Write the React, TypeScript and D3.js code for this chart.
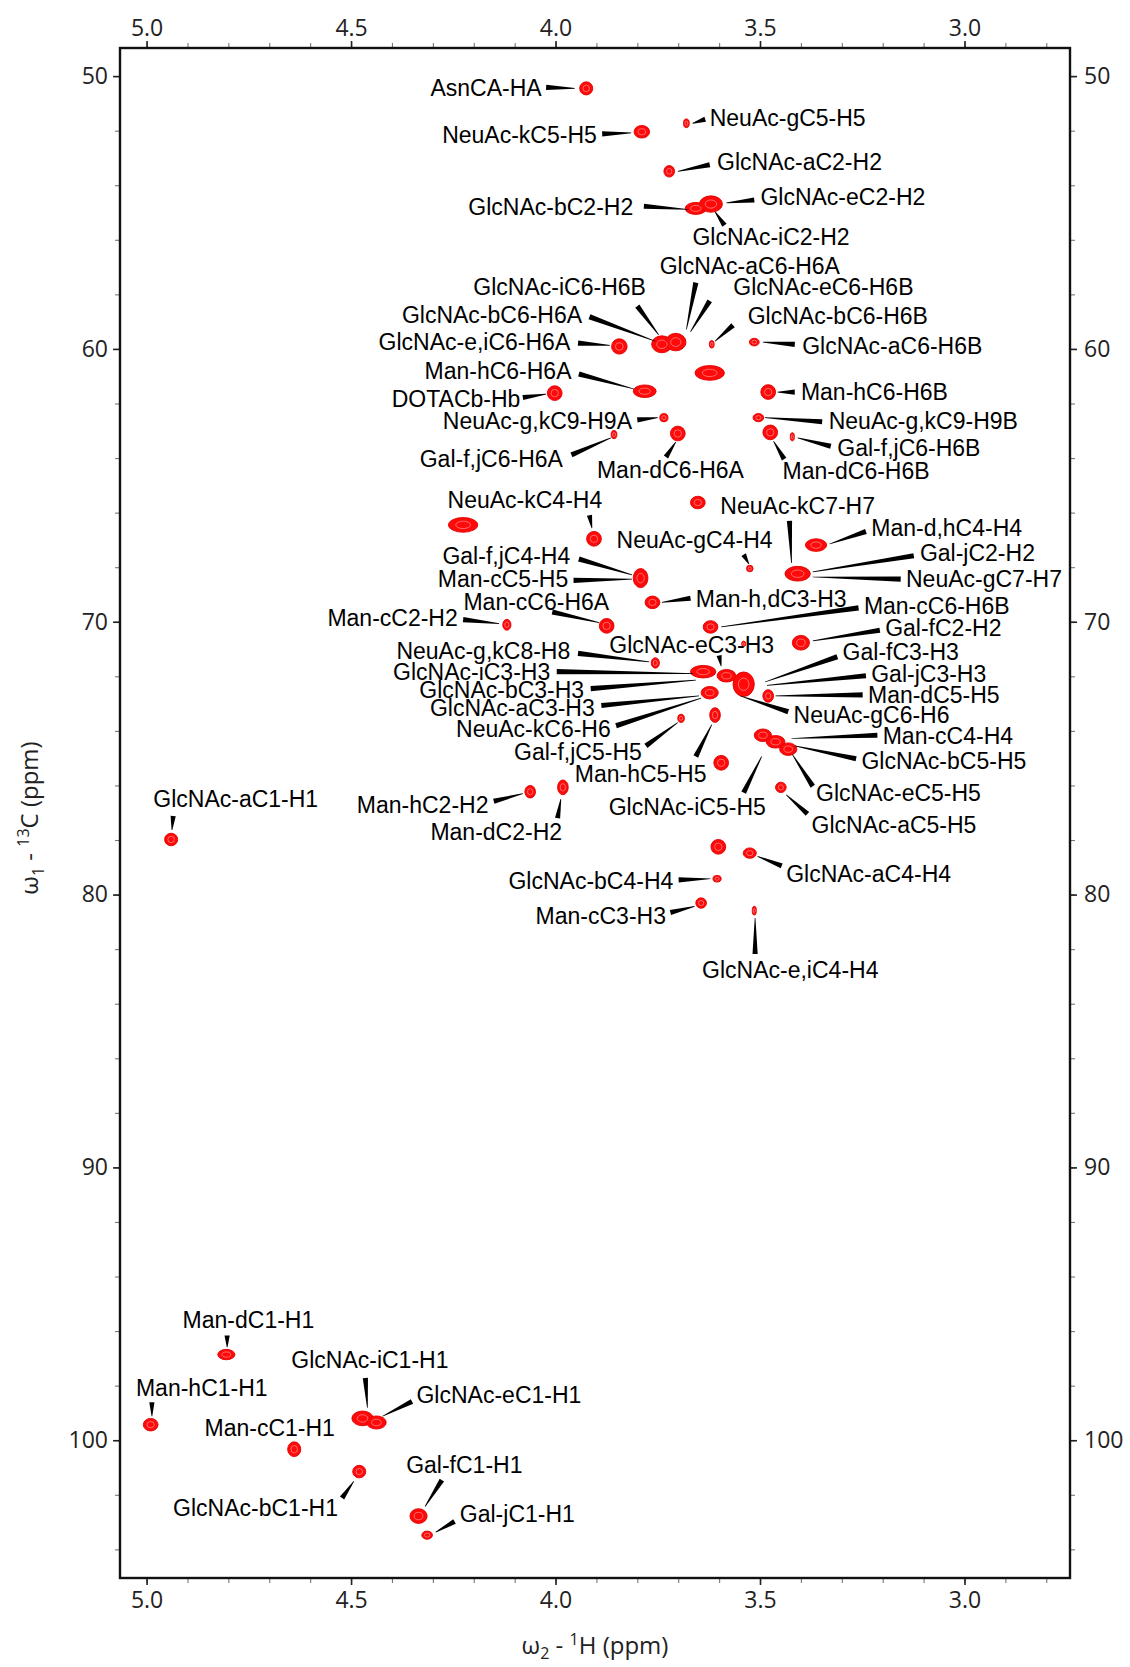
import React, { useEffect, useRef } from 'react';
import * as d3 from 'd3';

// spectral window (ppm)
const hDomain = [5.065, 2.742];
const cDomain = [48.97, 105.05];

const hTicks = [5.0, 4.5, 4.0, 3.5, 3.0];
const cTicks = [50, 60, 70, 80, 90, 100];

// cross peaks: [1H ppm, 13C ppm, 1H half width, 13C half width]
const peaks: number[][] = [
  [3.925, 50.45, 0.016, 0.24],
  [3.680, 51.73, 0.007, 0.16],
  [3.789, 52.04, 0.019, 0.23],
  [3.722, 53.49, 0.013, 0.21],
  [3.657, 54.85, 0.026, 0.22],
  [3.620, 54.69, 0.028, 0.30],
  [3.844, 59.91, 0.019, 0.28],
  [3.740, 59.83, 0.025, 0.31],
  [3.706, 59.75, 0.025, 0.32],
  [3.618, 59.83, 0.006, 0.14],
  [3.514, 59.75, 0.012, 0.14],
  [3.623, 60.88, 0.036, 0.27],
  [3.782, 61.55, 0.028, 0.23],
  [4.002, 61.62, 0.018, 0.27],
  [3.480, 61.58, 0.018, 0.27],
  [3.735, 62.52, 0.010, 0.15],
  [3.504, 62.52, 0.013, 0.15],
  [3.857, 63.14, 0.007, 0.15],
  [3.701, 63.10, 0.018, 0.27],
  [3.475, 63.06, 0.018, 0.27],
  [3.421, 63.22, 0.005, 0.15],
  [4.226, 66.45, 0.036, 0.27],
  [3.906, 66.96, 0.018, 0.27],
  [3.652, 65.63, 0.018, 0.23],
  [3.525, 68.05, 0.008, 0.12],
  [3.363, 67.19, 0.026, 0.23],
  [3.408, 68.24, 0.031, 0.27],
  [3.792, 68.40, 0.018, 0.35],
  [3.763, 69.29, 0.018, 0.23],
  [3.875, 70.15, 0.018, 0.27],
  [4.119, 70.11, 0.010, 0.20],
  [3.621, 70.19, 0.018, 0.23],
  [3.400, 70.77, 0.021, 0.27],
  [3.540, 70.81, 0.005, 0.10],
  [3.756, 71.51, 0.010, 0.19],
  [3.639, 71.83, 0.031, 0.23],
  [3.582, 71.98, 0.023, 0.23],
  [3.540, 72.29, 0.026, 0.45],
  [3.623, 72.60, 0.021, 0.23],
  [3.480, 72.72, 0.013, 0.23],
  [3.693, 73.54, 0.008, 0.15],
  [3.610, 73.42, 0.013, 0.27],
  [3.493, 74.16, 0.021, 0.23],
  [3.462, 74.40, 0.023, 0.23],
  [3.431, 74.67, 0.021, 0.23],
  [3.595, 75.17, 0.018, 0.27],
  [3.449, 76.07, 0.013, 0.19],
  [4.062, 76.23, 0.013, 0.23],
  [3.982, 76.07, 0.013, 0.27],
  [4.940, 77.98, 0.016, 0.23],
  [3.602, 78.25, 0.018, 0.27],
  [3.525, 78.48, 0.016, 0.19],
  [3.605, 79.42, 0.010, 0.12],
  [3.644, 80.31, 0.013, 0.19],
  [3.514, 80.59, 0.005, 0.16],
  [4.805, 96.86, 0.021, 0.19],
  [4.990, 99.43, 0.018, 0.23],
  [4.472, 99.20, 0.026, 0.27],
  [4.438, 99.35, 0.024, 0.24],
  [4.639, 100.33, 0.016, 0.27],
  [4.480, 101.15, 0.016, 0.23],
  [4.335, 102.78, 0.021, 0.27],
  [4.314, 103.48, 0.013, 0.15],
];

// assignments: [text, label 1H, label 13C, anchor, leader from 1H, 13C, leader to 1H, 13C]
const labels: [string, number, number, string, ...number[]][] = [
  ['AsnCA-HA', 4.034, 50.41, 'end', 4.023, 50.41, 3.953, 50.45],
  ['NeuAc-gC5-H5', 3.623, 51.54, 'start', 3.634, 51.58, 3.665, 51.73],
  ['NeuAc-kC5-H5', 3.899, 52.16, 'end', 3.886, 52.12, 3.815, 52.08],
  ['GlcNAc-aC2-H2', 3.605, 53.13, 'start', 3.623, 53.25, 3.701, 53.49],
  ['GlcNAc-bC2-H2', 3.810, 54.77, 'end', 3.784, 54.77, 3.675, 54.89],
  ['GlcNAc-eC2-H2', 3.499, 54.42, 'start', 3.514, 54.54, 3.582, 54.65],
  ['GlcNAc-iC2-H2', 3.473, 55.90, 'middle', 3.587, 55.47, 3.610, 54.97],
  ['GlcNAc-aC6-H6A', 3.525, 56.95, 'middle', 3.657, 57.57, 3.680, 59.29],
  ['GlcNAc-iC6-H6B', 3.990, 57.73, 'middle', 3.800, 58.43, 3.748, 59.48],
  ['GlcNAc-eC6-H6B', 3.345, 57.73, 'middle', 3.623, 58.24, 3.670, 59.37],
  ['GlcNAc-bC6-H6A', 3.935, 58.74, 'end', 3.917, 58.82, 3.756, 59.72],
  ['GlcNAc-bC6-H6B', 3.530, 58.78, 'start', 3.566, 59.13, 3.610, 59.72],
  ['GlcNAc-e,iC6-H6A', 3.964, 59.75, 'end', 3.945, 59.79, 3.867, 59.87],
  ['GlcNAc-aC6-H6B', 3.397, 59.87, 'start', 3.415, 59.83, 3.493, 59.75],
  ['Man-hC6-H6A', 3.961, 60.81, 'end', 3.943, 60.92, 3.808, 61.47],
  ['DOTACb-Hb', 4.086, 61.82, 'end', 4.080, 61.78, 4.023, 61.66],
  ['Man-hC6-H6B', 3.400, 61.58, 'start', 3.415, 61.58, 3.457, 61.58],
  ['NeuAc-g,kC9-H9A', 3.813, 62.64, 'end', 3.800, 62.60, 3.750, 62.52],
  ['NeuAc-g,kC9-H9B', 3.332, 62.64, 'start', 3.348, 62.67, 3.488, 62.52],
  ['Gal-f,jC6-H6A', 3.982, 64.04, 'end', 3.961, 63.88, 3.865, 63.26],
  ['Man-dC6-H6A', 3.719, 64.43, 'middle', 3.730, 63.96, 3.706, 63.41],
  ['Man-dC6-H6B', 3.265, 64.47, 'middle', 3.441, 64.04, 3.467, 63.38],
  ['Gal-f,jC6-H6B', 3.311, 63.61, 'start', 3.327, 63.57, 3.408, 63.26],
  ['NeuAc-kC4-H4', 4.075, 65.52, 'middle', 3.917, 66.10, 3.911, 66.57],
  ['NeuAc-kC7-H7', 3.597, 65.75, 'start', 3.428, 66.30, 3.423, 67.85],
  ['NeuAc-gC4-H4', 3.660, 67.00, 'middle', 3.540, 67.54, 3.527, 67.89],
  ['Man-d,hC4-H4', 3.228, 66.57, 'start', 3.241, 66.69, 3.330, 67.15],
  ['Gal-jC2-H2', 3.109, 67.46, 'start', 3.124, 67.58, 3.371, 68.17],
  ['NeuAc-gC7-H7', 3.143, 68.44, 'start', 3.156, 68.44, 3.371, 68.36],
  ['Gal-f,jC4-H4', 3.964, 67.58, 'end', 3.943, 67.70, 3.813, 68.28],
  ['Man-cC5-H5', 3.969, 68.44, 'end', 3.956, 68.48, 3.813, 68.44],
  ['Man-cC6-H6A', 4.047, 69.25, 'middle', 4.008, 69.64, 3.893, 70.03],
  ['Man-h,dC3-H3', 3.657, 69.14, 'start', 3.670, 69.14, 3.740, 69.29],
  ['Man-cC2-H2', 4.239, 69.84, 'end', 4.226, 69.92, 4.138, 70.07],
  ['Man-cC6-H6B', 3.246, 69.41, 'start', 3.259, 69.49, 3.595, 70.19],
  ['Gal-fC2-H2', 3.194, 70.23, 'start', 3.207, 70.31, 3.371, 70.70],
  ['GlcNAc-eC3-H3', 3.667, 70.85, 'middle', 3.600, 71.24, 3.595, 71.63],
  ['NeuAc-g,kC8-H8', 3.964, 71.05, 'end', 3.945, 71.16, 3.771, 71.47],
  ['GlcNAc-iC3-H3', 4.013, 71.83, 'end', 3.997, 71.83, 3.665, 71.90],
  ['GlcNAc-bC3-H3', 3.930, 72.49, 'end', 3.914, 72.45, 3.657, 72.14],
  ['GlcNAc-aC3-H3', 3.904, 73.15, 'end', 3.888, 73.07, 3.649, 72.72],
  ['NeuAc-kC6-H6', 3.865, 73.93, 'end', 3.852, 73.81, 3.644, 72.80],
  ['Gal-f,jC5-H5', 3.789, 74.75, 'end', 3.779, 74.55, 3.701, 73.69],
  ['Man-hC5-H5', 3.792, 75.56, 'middle', 3.657, 74.94, 3.618, 73.77],
  ['Gal-fC3-H3', 3.298, 71.09, 'start', 3.311, 71.28, 3.488, 72.21],
  ['Gal-jC3-H3', 3.228, 71.90, 'start', 3.241, 71.98, 3.483, 72.33],
  ['Man-dC5-H5', 3.236, 72.68, 'start', 3.249, 72.68, 3.462, 72.72],
  ['NeuAc-gC6-H6', 3.418, 73.42, 'start', 3.431, 73.30, 3.548, 72.72],
  ['Man-cC4-H4', 3.200, 74.16, 'start', 3.213, 74.16, 3.423, 74.28],
  ['GlcNAc-bC5-H5', 3.252, 75.10, 'start', 3.265, 75.02, 3.415, 74.55],
  ['GlcNAc-eC5-H5', 3.363, 76.26, 'start', 3.371, 76.03, 3.421, 74.86],
  ['GlcNAc-iC5-H5', 3.678, 76.77, 'middle', 3.540, 76.26, 3.496, 74.94],
  ['GlcNAc-aC5-H5', 3.374, 77.43, 'start', 3.384, 77.04, 3.436, 76.34],
  ['Man-hC2-H2', 4.164, 76.69, 'end', 4.151, 76.58, 4.080, 76.30],
  ['Man-dC2-H2', 4.145, 77.70, 'middle', 3.995, 77.20, 3.987, 76.50],
  ['GlcNAc-aC1-H1', 4.782, 76.50, 'middle', 4.935, 77.12, 4.938, 77.63],
  ['GlcNAc-aC4-H4', 3.436, 79.22, 'start', 3.447, 78.95, 3.506, 78.60],
  ['GlcNAc-bC4-H4', 3.712, 79.50, 'end', 3.699, 79.46, 3.621, 79.42],
  ['Man-cC3-H3', 3.730, 80.78, 'end', 3.719, 80.66, 3.660, 80.43],
  ['GlcNAc-e,iC4-H4', 3.426, 82.77, 'middle', 3.512, 82.18, 3.512, 80.86],
  ['Man-dC1-H1', 4.751, 95.58, 'middle', 4.803, 96.16, 4.803, 96.59],
  ['Man-hC1-H1', 4.865, 98.07, 'middle', 4.987, 98.61, 4.987, 99.12],
  ['GlcNAc-iC1-H1', 4.454, 97.06, 'middle', 4.465, 97.72, 4.460, 98.81],
  ['GlcNAc-eC1-H1', 4.340, 98.34, 'start', 4.351, 98.58, 4.423, 99.12],
  ['Man-cC1-H1', 4.699, 99.55, 'middle'],
  ['GlcNAc-bC1-H1', 4.532, 102.47, 'end', 4.522, 102.12, 4.493, 101.50],
  ['Gal-fC1-H1', 4.223, 100.91, 'middle', 4.278, 101.46, 4.319, 102.43],
  ['Gal-jC1-H1', 4.234, 102.70, 'start', 4.247, 102.98, 4.293, 103.37],
];

const W = 1130;
const H = 1667;
const box = { left: 120, right: 1070, top: 48, bottom: 1578 };

const labelFont = '"Liberation Sans", Arial, sans-serif';
const axisFont = '"Open Sans", "DejaVu Sans", sans-serif';

const HsqcChart = () => {
  const svgRef = useRef<SVGSVGElement>(null);

  useEffect(() => {
    const svg = d3.select(svgRef.current);
    svg.selectAll('*').remove();

    const x = d3.scaleLinear().domain(hDomain).range([box.left, box.right]);
    const y = d3.scaleLinear().domain(cDomain).range([box.top, box.bottom]);

    const hMinor = d3.range(28, 51).map(v => v / 10);
    const cMinor = d3.range(50, 105, 2);

    // axes, major + minor ticks on all four sides
    const styleAxis = (g: any) => {
      g.select('.domain').remove();
      g.selectAll('line').attr('stroke', '#222').attr('stroke-width', 1.6);
      g.selectAll('text').attr('font-family', axisFont).attr('font-size', 23).attr('fill', '#222');
    };
    const minorAxis = (g: any) => {
      g.select('.domain').remove();
      g.selectAll('line').attr('stroke', '#777').attr('stroke-width', 1.1);
    };

    svg.append('g').attr('transform', `translate(0,${box.top})`)
      .call(d3.axisTop(x).tickValues(hMinor).tickSize(5).tickFormat(() => '')).call(minorAxis);
    svg.append('g').attr('transform', `translate(0,${box.bottom})`)
      .call(d3.axisBottom(x).tickValues(hMinor).tickSize(5).tickFormat(() => '')).call(minorAxis);
    svg.append('g').attr('transform', `translate(${box.left},0)`)
      .call(d3.axisLeft(y).tickValues(cMinor).tickSize(5).tickFormat(() => '')).call(minorAxis);
    svg.append('g').attr('transform', `translate(${box.right},0)`)
      .call(d3.axisRight(y).tickValues(cMinor).tickSize(5).tickFormat(() => '')).call(minorAxis);

    svg.append('g').attr('transform', `translate(0,${box.top})`)
      .call(d3.axisTop(x).tickValues(hTicks).tickSize(7).tickPadding(5).tickFormat(d3.format('.1f'))).call(styleAxis);
    svg.append('g').attr('transform', `translate(0,${box.bottom})`)
      .call(d3.axisBottom(x).tickValues(hTicks).tickSize(7).tickPadding(7).tickFormat(d3.format('.1f'))).call(styleAxis);
    svg.append('g').attr('transform', `translate(${box.left},0)`)
      .call(d3.axisLeft(y).tickValues(cTicks).tickSize(7).tickPadding(5).tickFormat(d3.format('d'))).call(styleAxis);
    svg.append('g').attr('transform', `translate(${box.right},0)`)
      .call(d3.axisRight(y).tickValues(cTicks).tickSize(7).tickPadding(7).tickFormat(d3.format('d'))).call(styleAxis);

    svg.append('rect')
      .attr('x', box.left).attr('y', box.top)
      .attr('width', box.right - box.left).attr('height', box.bottom - box.top)
      .attr('fill', 'none').attr('stroke', '#111').attr('stroke-width', 2.4);

    // peaks drawn as contour-like blobs
    const pk = svg.append('g');
    const rx = (d: number[]) => Math.abs(x(d[0] + d[2]) - x(d[0]));
    const ry = (d: number[]) => Math.abs(y(d[1] + d[3]) - y(d[1]));
    pk.selectAll('.outer').data(peaks).enter().append('ellipse')
      .attr('cx', d => x(d[0])).attr('cy', d => y(d[1]))
      .attr('rx', rx).attr('ry', ry)
      .attr('fill', '#ff0a0a').attr('stroke', '#e00000').attr('stroke-width', 0.9);
    pk.selectAll('.inner').data(peaks).enter().append('ellipse')
      .attr('cx', d => x(d[0])).attr('cy', d => y(d[1]))
      .attr('rx', d => rx(d) * 0.5).attr('ry', d => ry(d) * 0.5)
      .attr('fill', 'none').attr('stroke', '#ffb0b0').attr('stroke-width', 0.7)
      .attr('opacity', 0.8);

    // tapered leader lines
    const wedge = (d: any[]) => {
      const x0 = x(d[4]), y0 = y(d[5]), x1 = x(d[6]), y1 = y(d[7]);
      const len = Math.hypot(x1 - x0, y1 - y0) || 1;
      const nx = -(y1 - y0) / len, ny = (x1 - x0) / len;
      const w0 = 2.6, w1 = 0.35;
      return [
        [x0 + nx * w0, y0 + ny * w0], [x1 + nx * w1, y1 + ny * w1],
        [x1 - nx * w1, y1 - ny * w1], [x0 - nx * w0, y0 - ny * w0],
      ].map(p => p.join(',')).join(' ');
    };
    svg.append('g').selectAll('polygon')
      .data(labels.filter(d => d.length > 4)).enter().append('polygon')
      .attr('points', wedge).attr('fill', '#000');

    svg.append('g').selectAll('text').data(labels).enter().append('text')
      .attr('x', d => x(d[1] as number)).attr('y', d => y(d[2] as number))
      .attr('dy', '0.36em')
      .attr('text-anchor', d => d[3] as string)
      .attr('font-family', labelFont).attr('font-size', 23).attr('fill', '#000')
      .text(d => d[0] as string);

    // axis titles
    const xt = svg.append('text')
      .attr('x', (box.left + box.right) / 2).attr('y', 1654)
      .attr('text-anchor', 'middle')
      .attr('font-family', axisFont).attr('font-size', 24).attr('fill', '#222');
    xt.append('tspan').text('ω');
    xt.append('tspan').attr('font-size', 16).attr('dy', 5).text('2');
    xt.append('tspan').attr('dy', -5).text(' - ');
    xt.append('tspan').attr('font-size', 16).attr('dy', -9).text('1');
    xt.append('tspan').attr('dy', 9).text('H (ppm)');

    const yt = svg.append('text')
      .attr('transform', `translate(38,${(box.top + box.bottom) / 2 + 5}) rotate(-90)`)
      .attr('text-anchor', 'middle')
      .attr('font-family', axisFont).attr('font-size', 24).attr('fill', '#222');
    yt.append('tspan').text('ω');
    yt.append('tspan').attr('font-size', 16).attr('dy', 6).text('1');
    yt.append('tspan').attr('dy', -6).text(' - ');
    yt.append('tspan').attr('font-size', 16).attr('dy', -9).text('13');
    yt.append('tspan').attr('dy', 9).text('C  (ppm)');
  }, []);

  return (
    <svg ref={svgRef} width={W} height={H}
      style={{ position: 'absolute', left: 0, top: 0, background: '#fff' }} />
  );
};

export default function App() {
  return <HsqcChart />;
}
